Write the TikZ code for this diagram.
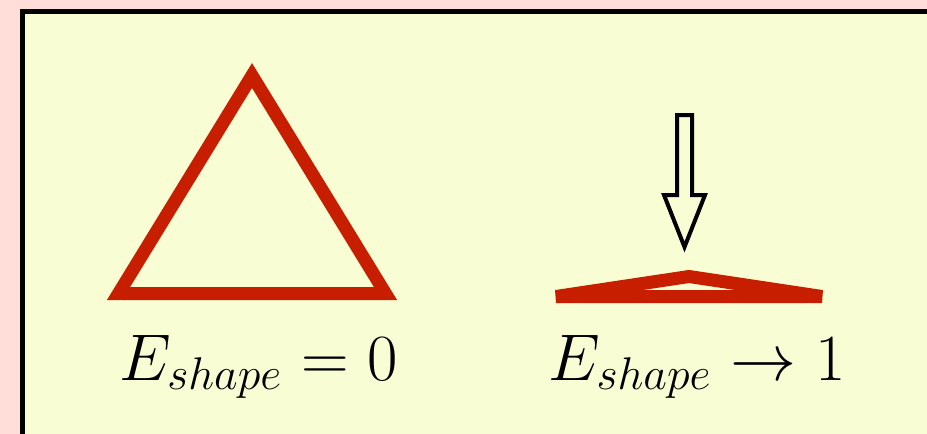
\documentclass[tikz,border=0pt]{standalone}
\usepackage{graphicx}
\usepackage{tikz}
\usetikzlibrary{positioning}
\definecolor{bgpink}{HTML}{FFDDD9}
\definecolor{panelyellow}{HTML}{F8FDD3}
\definecolor{shapered}{HTML}{C81E00}
\newcommand{\biglabel}[1]{\scalebox{3.82}{\LARGE #1}}

\begin{document}
\begin{tikzpicture}[
    x=1pt,y=-1pt,
    panel/.style={draw=black,line width=5pt,fill=panelyellow},
    outline/.style={draw=shapered,line width=13pt},
    pusharrow/.style={draw=black,line width=4pt,fill=panelyellow},
    label/.style={anchor=base,inner sep=0pt}
  ]
    \useasboundingbox (0,0) rectangle (927,434);
    \fill[bgpink] (0,0) rectangle (927,434);
    \clip (0,0) rectangle (927,434);
    \draw[panel] (22.5,11.5) rectangle (960,470);
    % regular triangle
    \coordinate (tl) at (118.5,293.5);
    \coordinate (tr) at (385.5,293.5);
    \coordinate (tt) at (252,75.5);
    \draw[outline] (tl)--(tt)--(tr)--cycle;
    % flattened triangle
    \coordinate (fl) at (556,296.5);
    \coordinate (fr) at (822,296.5);
    \coordinate (ft) at (689,276.5);
    \draw[outline] (fl)--(ft)--(fr)--cycle;
    % push arrow
    \draw[pusharrow] (677,115)--(692,115)--(692,195)--(705,195)--(684.5,247)
      --(664,195)--(677,195)--cycle;
    \node[label] (e0) at (258.5,380) {\biglabel{$E_{shape} = 0$}};
    \node[label] (e1) at (697,380) {\biglabel{$E_{shape} \rightarrow 1$}};
  \end{tikzpicture}
\end{document}
